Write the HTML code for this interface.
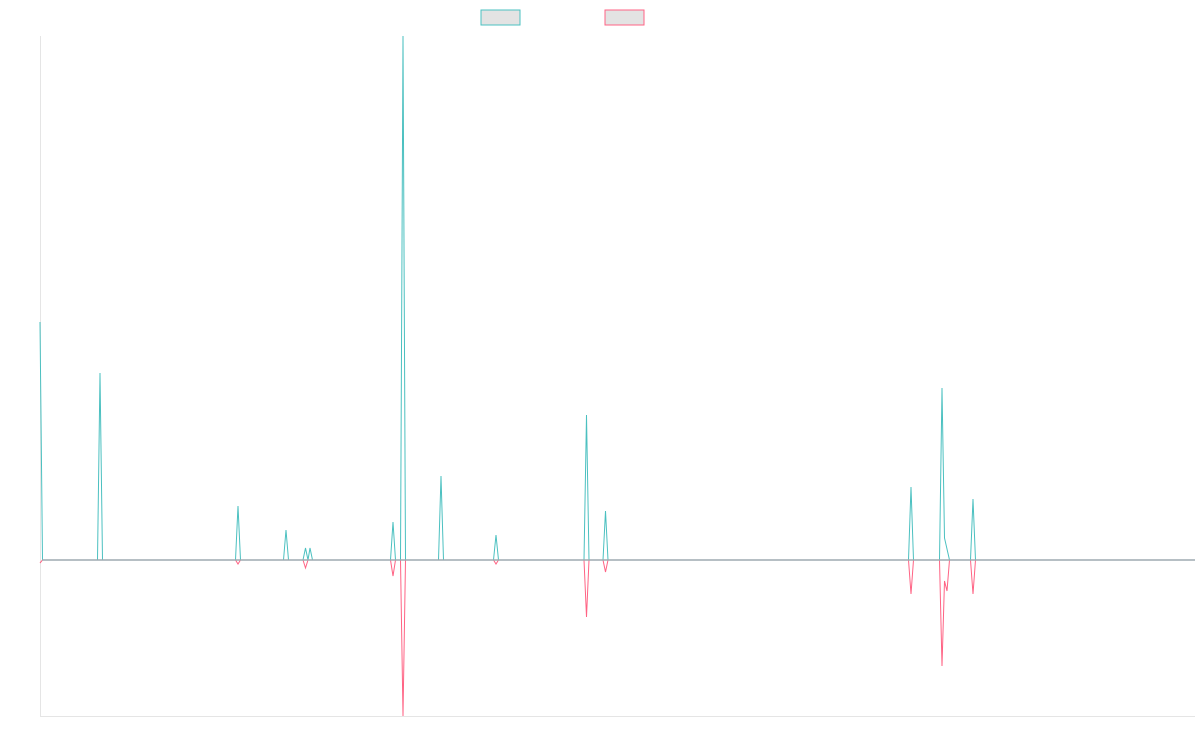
<!DOCTYPE html>
<html><head><style>body{margin:0;background:#fff}svg{display:block}</style></head>
<body>
<svg width="1200" height="750" xmlns="http://www.w3.org/2000/svg">
<rect x="481" y="10" width="39" height="15" fill="#e3e3e3" stroke="#4bc0c0" stroke-width="1"/>
<rect x="605" y="10" width="39" height="15" fill="#e3e3e3" stroke="#ff6384" stroke-width="1"/>
<line x1="40.5" y1="36" x2="40.5" y2="716" stroke="#e5e5e5"/>
<line x1="40" y1="716.5" x2="1195" y2="716.5" stroke="#e5e5e5"/>
<polyline fill="none" stroke="#ff6384" stroke-width="1" points="40,563 42.5,560 235.5,560 238,564 240.5,560 303,560 305.5,568 308,560 390.5,560 393,576 395.5,560 400.5,560 403,716 405.5,560 493.5,560 496,564 498.5,560 584,560 586.5,617 589,560 603,560 605.5,572 608,560 908.5,560 911,594 913.5,560 939.5,560 942,666 944.5,581 947,591 949.5,560 970.5,560 973,594 975.5,560 1195,560"/>
<polyline fill="none" stroke="#4bc0c0" stroke-width="1" points="40,322 42.5,560 97.5,560 100,373 102.5,560 235.5,560 238,506 240.5,560 283.5,560 286,530 288.5,560 303,560 305.5,548 308,560 310,548 312.5,560 390.5,560 393,522 395.5,560 400.5,560 403,36 405.5,560 438.5,560 441,476 443.5,560 493.5,560 496,535 498.5,560 584,560 586.5,415 589,560 603,560 605.5,511 608,560 908.5,560 911,487 913.5,560 939.5,560 942,388 944.5,538 949.5,560 970.5,560 973,499 975.5,560 1195,560"/>
<line x1="42" y1="560" x2="1195" y2="560" stroke="#9eaab0" stroke-width="1.5"/>
</svg>
</body></html>
